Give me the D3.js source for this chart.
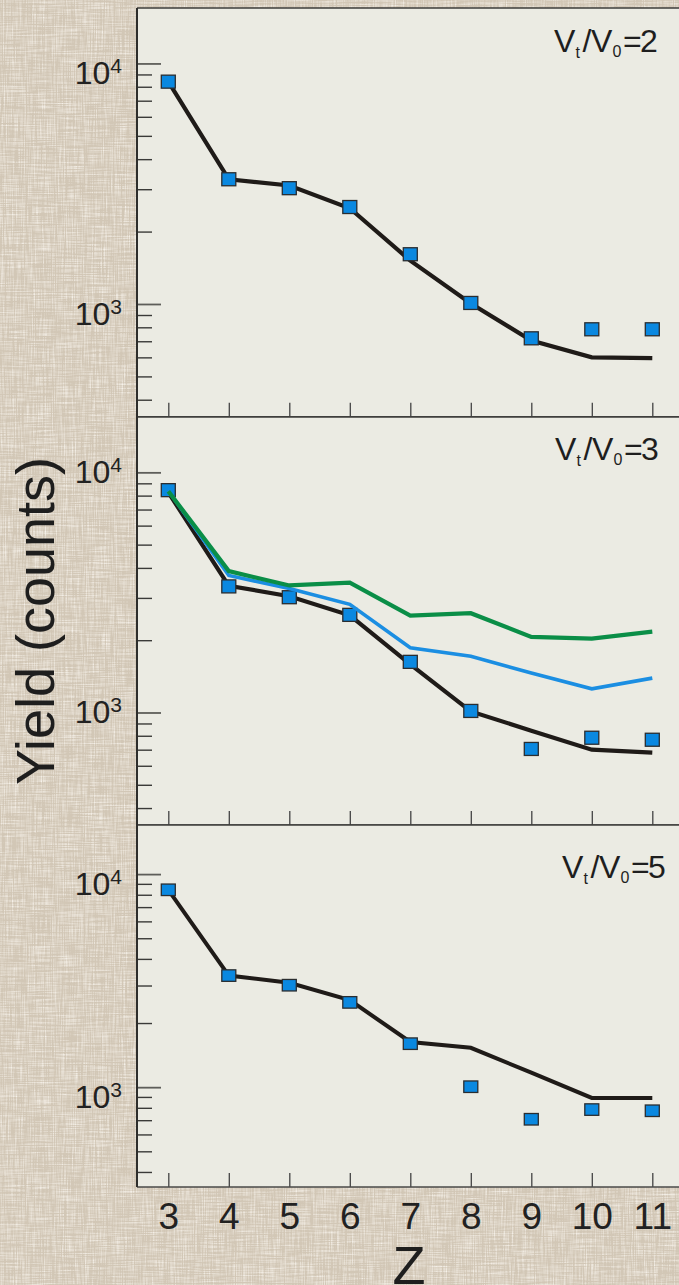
<!DOCTYPE html>
<html>
<head>
<meta charset="utf-8">
<script src="https://cdn.jsdelivr.net/npm/d3@7"></script>
<style>
  html, body { margin: 0; padding: 0; background: #d6ccbc; }
  svg { display: block; }
</style>
</head>
<body>
<svg id="chart" width="679" height="1285"></svg>
<script>
// ---- data ----
const zValues = [3, 4, 5, 6, 7, 8, 9, 10, 11];
const zTickLabels = ["3", "4", "5", "6", "7", "8", "9", "10", "11"];
const ratioLabels = ["2", "3", "5"];
const yDecades = [1000, 10000];
const yDecadeExponents = ["3", "4"];
const yMinorTicks = [400, 500, 600, 700, 800, 900, 2000, 3000, 4000, 5000, 6000, 7000, 8000, 9000];

// Vt/V0 = 2
const measuredV2 = [8400, 3300, 3030, 2530, 1610, 1010, 720, 785, 785];
const calcV2 = [8400, 3300, 3110, 2500, 1515, 1005, 705, 600, 596];

// Vt/V0 = 3
const measuredV3 = [8430, 3350, 3020, 2550, 1625, 1015, 705, 785, 770];
const calcV3Black = [8250, 3370, 3050, 2540, 1585, 1010, 840, 700, 680];
const calcV3Blue = [8380, 3720, 3280, 2820, 1860, 1715, 1460, 1255, 1390];
const calcV3Green = [8350, 3880, 3380, 3470, 2530, 2590, 2065, 2030, 2170];

// Vt/V0 = 5
const measuredV5 = [8440, 3340, 3010, 2500, 1600, 1005, 707, 785, 775];
const calcV5 = [8440, 3340, 3090, 2560, 1630, 1530, 1170, 890, 890];

// ---- layout ----
const W = 679, H = 1285;
const plotLeft = 137, plotRight = 690;
const FONT = "'Liberation Sans', Arial, Helvetica, sans-serif";
const COLORS = { black: "#1f1b18", blue: "#1b8ee2", green: "#0a8e47", marker: "#0a88e0", panel: "#ebebe3" };

const panels = [
  { top: 8,   bottom: 416.7, labelDy: 21, annX: 554, annY: 52, markH: 13,
    measured: measuredV2, curves: [{ v: calcV2, c: COLORS.black, w: 4.2 }], over: [] },
  { top: 417, bottom: 825, labelDy: 11, annX: 555, annY: 460, markH: 13,
    measured: measuredV3, curves: [{ v: calcV3Black, c: COLORS.black, w: 4.2 }],
    over: [{ v: calcV3Blue, c: COLORS.blue, w: 3.6 }, { v: calcV3Green, c: COLORS.green, w: 4.2 }] },
  { top: 825, bottom: 1187, labelDy: 21, annX: 562, annY: 878, markH: 11.5,
    measured: measuredV5, curves: [{ v: calcV5, c: COLORS.black, w: 4 }], over: [] }
];

const svg = d3.select("#chart");
const defs = svg.append("defs");

// woven linen backdrop
const f = defs.append("filter").attr("id", "linen")
  .attr("x", 0).attr("y", 0).attr("width", W).attr("height", H)
  .attr("filterUnits", "userSpaceOnUse");
f.append("feTurbulence").attr("type", "fractalNoise").attr("baseFrequency", "0.9 0.035")
  .attr("numOctaves", 2).attr("seed", 4).attr("result", "vert");
f.append("feTurbulence").attr("type", "fractalNoise").attr("baseFrequency", "0.035 0.9")
  .attr("numOctaves", 2).attr("seed", 9).attr("result", "horz");
f.append("feComposite").attr("in", "vert").attr("in2", "horz")
  .attr("operator", "arithmetic").attr("k1", 0).attr("k2", 0.5).attr("k3", 0.5).attr("k4", 0)
  .attr("result", "mix");
f.append("feColorMatrix").attr("in", "mix").attr("type", "matrix")
  .attr("values", "0 0 0 0 0.97  0 0 0 0 0.94  0 0 0 0 0.89  2.2 0 0 0 -0.92");

svg.append("rect").attr("width", W).attr("height", H).attr("fill", "#d2c7b6");
svg.append("rect").attr("width", W).attr("height", H).attr("filter", "url(#linen)");

const x = d3.scaleLinear().domain([3, 11]).range([168.3, 652.3]);

panels.forEach((p, i) => {
  const g = svg.append("g");
  const y = d3.scaleLog().domain([340, 17000]).range([p.bottom, p.top]);

  g.append("rect").attr("x", plotLeft).attr("y", p.top)
    .attr("width", plotRight - plotLeft).attr("height", p.bottom - p.top)
    .attr("fill", COLORS.panel);

  // minor y ticks
  const minor = g.append("g").attr("transform", `translate(${plotLeft},0)`)
    .call(d3.axisLeft(y).tickValues(yMinorTicks).tickSizeInner(-15).tickSizeOuter(0).tickFormat(""));
  minor.select(".domain").remove();
  minor.selectAll("line").attr("stroke", "#3a3a38").attr("stroke-width", 1.4);

  // decade ticks
  const major = g.append("g").attr("transform", `translate(${plotLeft},0)`)
    .call(d3.axisLeft(y).tickValues(yDecades).tickSizeInner(-24).tickSizeOuter(0).tickFormat(""));
  major.select(".domain").remove();
  major.selectAll("line").attr("stroke", "#5e5e5a").attr("stroke-width", 1.8);

  // decade labels 10^n
  yDecades.forEach((d, k) => {
    const t = g.append("text").attr("x", 122).attr("y", y(d) + p.labelDy)
      .attr("text-anchor", "end").attr("font-family", FONT).attr("fill", "#222");
    t.append("tspan").attr("font-size", 32).text("10");
    t.append("tspan").attr("font-size", 21).attr("dy", -11).text(yDecadeExponents[k]);
  });

  // x ticks along panel bottom
  const xa = g.append("g").attr("transform", `translate(0,${p.bottom})`)
    .call(d3.axisBottom(x).tickValues(zValues).tickSizeInner(-14).tickSizeOuter(0)
      .tickPadding(16).tickFormat((d, k) => i === panels.length - 1 ? zTickLabels[k] : ""));
  xa.select(".domain").remove();
  xa.selectAll("line").attr("stroke", "#444").attr("stroke-width", 1.3);
  xa.selectAll("text").attr("font-family", FONT).attr("font-size", 37).attr("fill", "#222");

  // panel frame
  g.append("line").attr("x1", plotLeft).attr("x2", plotRight).attr("y1", p.top).attr("y2", p.top)
    .attr("stroke", "#3c3c3a").attr("stroke-width", 1.6);
  g.append("line").attr("x1", plotLeft).attr("x2", plotRight).attr("y1", p.bottom).attr("y2", p.bottom)
    .attr("stroke", "#4a4a48").attr("stroke-width", 1.6);

  const line = d3.line().x((d, k) => x(zValues[k])).y(d => y(d));
  const drawCurve = c => g.append("path").attr("d", line(c.v)).attr("fill", "none")
    .attr("stroke", c.c).attr("stroke-width", c.w).attr("stroke-linejoin", "miter");

  p.curves.forEach(drawCurve);

  // measured yields
  const mw = 14, mh = p.markH;
  g.selectAll("rect.mark").data(p.measured).join("rect").attr("class", "mark")
    .attr("x", (d, k) => x(zValues[k]) - mw / 2).attr("y", d => y(d) - mh / 2)
    .attr("width", mw).attr("height", mh)
    .attr("fill", COLORS.marker).attr("stroke", "#2a2d30").attr("stroke-width", 1.3);

  p.over.forEach(drawCurve);

  // Vt/V0 annotation
  const a = g.append("text").attr("font-family", FONT).attr("fill", "#1e1e1e");
  const parts = [
    { s: "V", dx: 0, dy: 0, fs: 32 },
    { s: "t", dx: 21.5, dy: 6, fs: 16 },
    { s: "/", dx: 28.5, dy: 0, fs: 32 },
    { s: "V", dx: 37, dy: 0, fs: 32 },
    { s: "0", dx: 58.5, dy: 5, fs: 16 },
    { s: "=", dx: 69, dy: 0, fs: 32 },
    { s: ratioLabels[i], dx: 86, dy: 0, fs: 32 }
  ];
  parts.forEach(q => a.append("tspan").attr("x", p.annX + q.dx).attr("y", p.annY + q.dy)
    .attr("font-size", q.fs).text(q.s));
});

// left axis spine
svg.append("line").attr("x1", plotLeft).attr("x2", plotLeft)
  .attr("y1", panels[0].top).attr("y2", panels[2].bottom)
  .attr("stroke", "#2e2e2c").attr("stroke-width", 2);

// axis titles
svg.append("text").attr("transform", "translate(53.5,621) rotate(-90)")
  .attr("text-anchor", "middle").attr("font-family", FONT).attr("font-size", 54)
  .attr("fill", "#1e1e1e").text("Yield (counts)");
svg.append("text").attr("x", 409).attr("y", 1284).attr("text-anchor", "middle")
  .attr("font-family", FONT).attr("font-size", 54).attr("fill", "#1e1e1e").text("Z");
</script>
</body>
</html>
